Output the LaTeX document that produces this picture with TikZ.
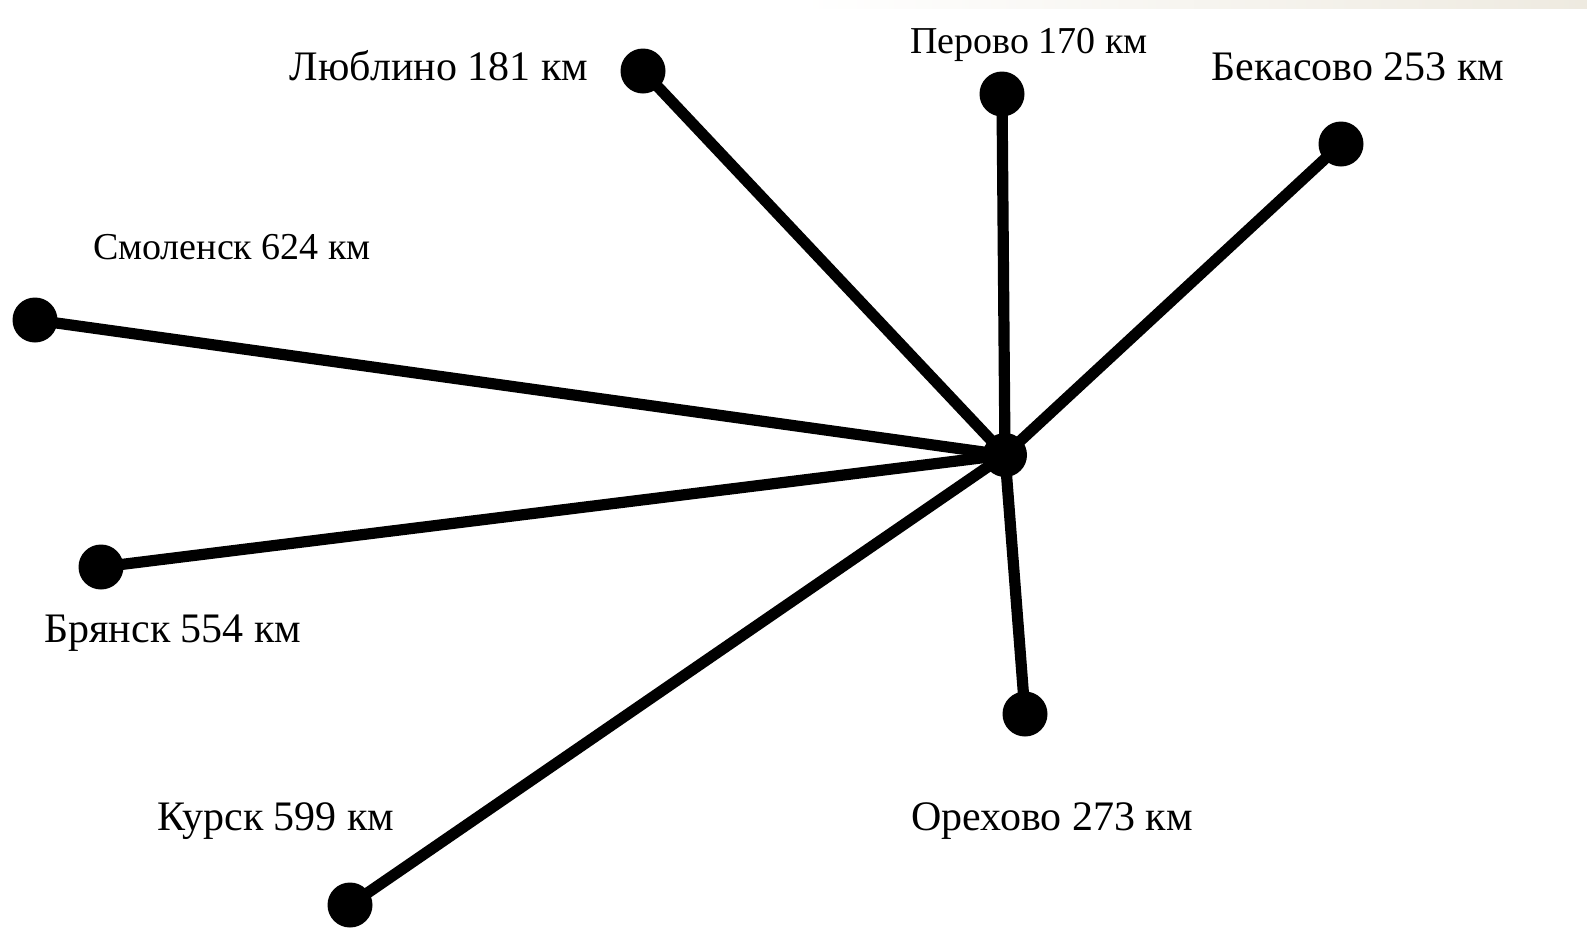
\documentclass[tikz,border=0pt]{standalone}
\usepackage{fontspec}
\setmainfont{Liberation Serif}
\begin{document}
\begin{tikzpicture}[x=0.5pt,y=-0.5pt,
  dot/.style={circle,fill=black,inner sep=0pt,minimum size=22.5pt},
  hub/.style={circle,fill=black,inner sep=0pt,minimum size=22pt},
  edge/.style={line width=5.6pt},
  lbl/.style={anchor=base,inner sep=0pt,font=\fontsize{21}{24}\selectfont},
  slbl/.style={anchor=base,inner sep=0pt,font=\fontsize{19}{22}\selectfont}]
\useasboundingbox (0,0) rectangle (1587,932);
\fill[white] (0,0) rectangle (1587,932);
\shade[left color=white,right color={rgb,255:red,238;green,234;blue,224}] (800,0) rectangle (1587,8);
\node[hub] (c) at (1005,455) {};
\node[dot] (lub) at (643,71) {};
\node[dot] (per) at (1002,94) {};
\node[dot] (bek) at (1341,144) {};
\node[dot] (smo) at (35,320) {};
\node[dot] (bry) at (101,567) {};
\node[dot] (kur) at (350,905) {};
\node[dot] (ore) at (1025,714) {};
\foreach \t in {lub,per,bek,smo,bry,kur,ore} \draw[edge] (c.center) -- (\t.center);
\node[lbl] (tlub) at (439,80) {Люблино 181 км};
\node[slbl] (tper) at (1029,53) {Перово 170 км};
\node[lbl] (tbek) at (1358,80) {Бекасово 253 км};
\node[slbl] (tsmo) at (232,259) {Смоленск 624 км};
\node[lbl] (tbry) at (173,642) {Брянск 554 км};
\node[lbl] (tkur) at (276,830) {Курск 599 км};
\node[lbl] (tore) at (1052,830) {Орехово 273 км};
\end{tikzpicture}
\end{document}
